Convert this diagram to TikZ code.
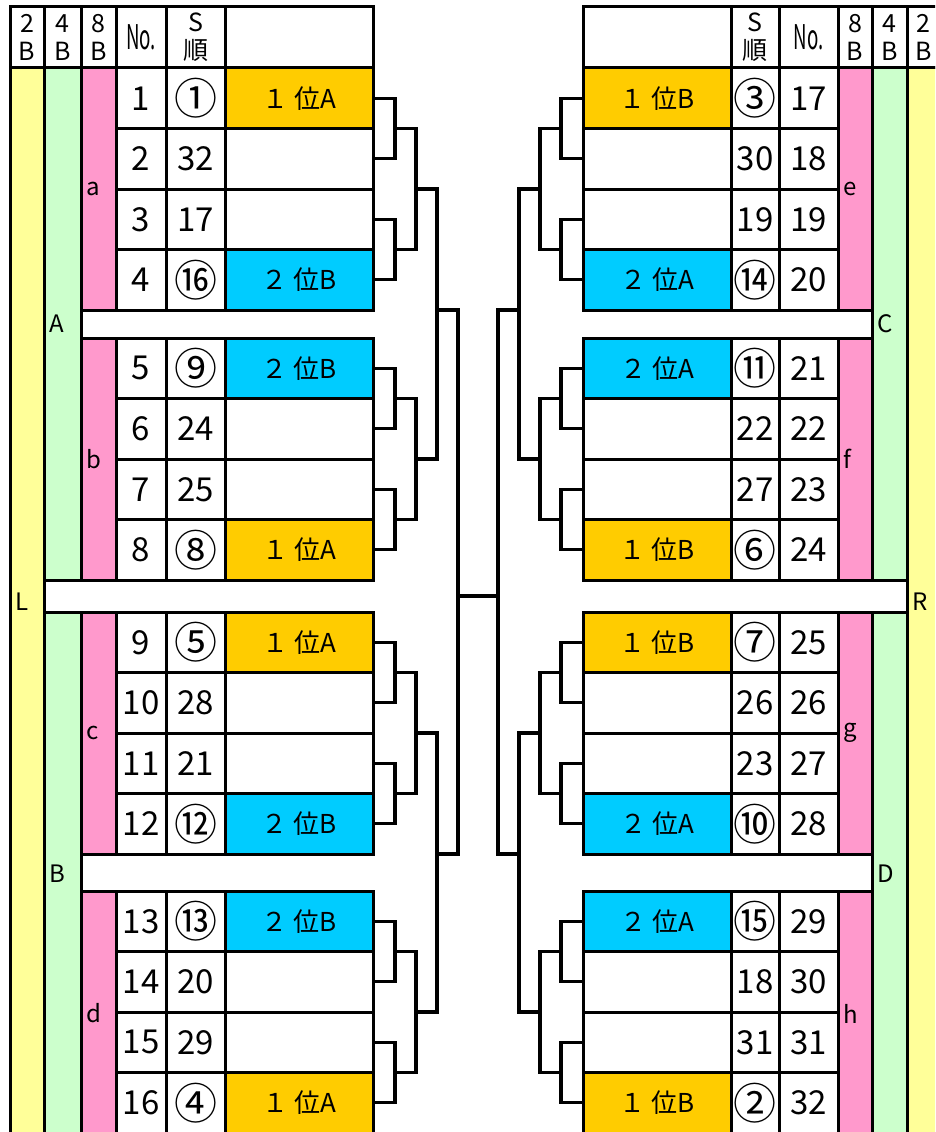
\documentclass[tikz,border=0pt]{standalone}
\usepackage{fontspec}
\setmainfont{Noto Sans CJK JP}
\usetikzlibrary{positioning,calc}

\definecolor{bandyel}{HTML}{FFFF99}
\definecolor{bandgrn}{HTML}{CCFFCC}
\definecolor{bandpnk}{HTML}{FF99CC}
\definecolor{rankor}{HTML}{FFCC00}
\definecolor{rankcy}{HTML}{00CCFF}
\newcommand{\circnum}[1]{{\fontsize{43}{43}\selectfont#1}}
\newcommand{\nolabel}{\scalebox{0.55}[1]{\fontsize{34}{34}\selectfont No.}}

\begin{document}
\begin{tikzpicture}[x=1pt,y=-1pt]
\tikzstyle{cell}=[rectangle,draw=black,line width=3pt,
inner sep=0pt,outer sep=0pt,minimum height=60.5pt]
\tikzstyle{band}=[cell,inner xsep=5pt,align=left,
font=\fontsize{24}{28}\selectfont]
\tikzstyle{head}=[cell,fill=white,minimum height=61pt,align=center,
font=\fontsize{25}{28}\selectfont]
\tikzstyle{num}=[cell,fill=white,font=\fontsize{33}{33}\selectfont]
\tikzstyle{rank}=[cell,font=\fontsize{26}{26}\selectfont]
\tikzstyle{bracket}=[line width=3.4pt,line join=miter]

\useasboundingbox (0,0) rectangle (935,1132);
\clip (0,0) rectangle (935,1132);

% bands 2B / 4B / 8B
\node[band,fill=bandyel,text width=24pt,minimum height=1068pt] (L) at (27,602) {L};
\node[band,fill=bandgrn,text width=27pt,minimum height=512pt] (A) at (62.5,324) {A};
\node[band,fill=bandgrn,text width=27pt,minimum height=524pt] (B) at (62.5,874) {B};
\node[band,fill=bandpnk,text width=25pt,minimum height=242pt] (a) at (98.5,189) {a};
\node[band,fill=bandpnk,text width=25pt,minimum height=242pt] (b) at (98.5,459) {b};
\node[band,fill=bandpnk,text width=25pt,minimum height=242pt] (c) at (98.5,733) {c};
\node[band,fill=bandpnk,text width=25pt,minimum height=245pt] (d) at (98.5,1013.5) {d};
\node[band,fill=bandyel,text width=23pt,minimum height=1068pt] (R) at (923.5,602) {R};
\node[band,fill=bandgrn,text width=25pt,minimum height=512pt] (C) at (889.5,324) {C};
\node[band,fill=bandgrn,text width=25pt,minimum height=524pt] (D) at (889.5,874) {D};
\node[band,fill=bandpnk,text width=24pt,minimum height=242pt] (e) at (855,189) {e};
\node[band,fill=bandpnk,text width=24pt,minimum height=242pt] (f) at (855,459) {f};
\node[band,fill=bandpnk,text width=24pt,minimum height=242pt] (g) at (855,733) {g};
\node[band,fill=bandpnk,text width=24pt,minimum height=245pt] (h) at (855,1013.5) {h};

% header row
\node[head,minimum width=34pt] (hl2) at (27,37.5) {2\\B};
\node[head,minimum width=37pt] (hl4) at (62.5,37.5) {4\\B};
\node[head,minimum width=35pt] (hl8) at (98.5,37.5) {8\\B};
\node[head,minimum width=50pt] (hlno) at (141,37.5) {\nolabel};
\node[head,minimum width=59pt] (hls) at (195.5,37.5) {S\\順};
\node[head,minimum width=148pt] (hlnm) at (299,37.5) {};
\node[head,minimum width=148pt] (hrnm) at (657,37.5) {};
\node[head,minimum width=48pt] (hrs) at (755,37.5) {S\\順};
\node[head,minimum width=59pt] (hrno) at (808.5,37.5) {\nolabel};
\node[head,minimum width=34pt] (hr8) at (855,37.5) {8\\B};
\node[head,minimum width=35pt] (hr4) at (889.5,37.5) {4\\B};
\node[head,minimum width=33pt] (hr2) at (923.5,37.5) {2\\B};

% entries
\foreach \nr/\sj/\rk/\clr in {
1/\circnum{①}/１ 位A/rankor, 2/32//white, 3/17//white, 4/\circnum{⑯}/２ 位B/rankcy,
5/\circnum{⑨}/２ 位B/rankcy, 6/24//white, 7/25//white, 8/\circnum{⑧}/１ 位A/rankor,
9/\circnum{⑤}/１ 位A/rankor, 10/28//white, 11/21//white, 12/\circnum{⑫}/２ 位B/rankcy,
13/\circnum{⑬}/２ 位B/rankcy, 14/20//white, 15/29//white, 16/\circnum{④}/１ 位A/rankor,
17/\circnum{③}/１ 位B/rankor, 18/30//white, 19/19//white, 20/\circnum{⑭}/２ 位A/rankcy,
21/\circnum{⑪}/２ 位A/rankcy, 22/22//white, 23/27//white, 24/\circnum{⑥}/１ 位B/rankor,
25/\circnum{⑦}/１ 位B/rankor, 26/26//white, 27/23//white, 28/\circnum{⑩}/２ 位A/rankcy,
29/\circnum{⑮}/２ 位A/rankcy, 30/18//white, 31/31//white, 32/\circnum{②}/１ 位B/rankor}{
  \pgfmathtruncatemacro{\jj}{mod(\nr-1,16)}
  \pgfmathtruncatemacro{\bk}{\jj/4}
  \pgfmathtruncatemacro{\ii}{\jj-4*\bk}
  \pgfmathsetmacro{\yc}{{68,338,612,891}[\bk]+(\ii+0.5)*60.5}
  \ifnum\nr<17
    \node[num,minimum width=50pt] (no-\nr) at (141,\yc) {\nr};
    \node[num,minimum width=59pt] (sj-\nr) at (195.5,\yc) {\sj};
    \node[rank,fill=\clr,minimum width=148pt] (nm-\nr) at (299,\yc) {\rk};
  \else
    \node[rank,fill=\clr,minimum width=148pt] (nm-\nr) at (657,\yc) {\rk};
    \node[num,minimum width=48pt] (sj-\nr) at (755,\yc) {\sj};
    \node[num,minimum width=59pt] (no-\nr) at (808.5,\yc) {\nr};
  \fi
}

% brackets
\foreach \an/\dir/\sd in {east/1/0,west/-1/1}{
  \foreach \p in {1,...,8}{
    \pgfmathtruncatemacro{\pp}{\p+8*\sd}
    \pgfmathtruncatemacro{\ra}{2*\pp-1}
    \pgfmathtruncatemacro{\rb}{2*\pp}
    \coordinate (ja-\pp) at ($(nm-\ra.\an)!.5!(nm-\rb.\an)+(\dir*22,0)$);
    \draw[bracket] (nm-\ra.\an) -| (ja-\pp) |- (nm-\rb.\an);
  }
  \foreach \p in {1,...,4}{
    \pgfmathtruncatemacro{\pp}{\p+4*\sd}
    \pgfmathtruncatemacro{\ra}{2*\pp-1}
    \pgfmathtruncatemacro{\rb}{2*\pp}
    \coordinate (jb-\pp) at ($(ja-\ra)!.5!(ja-\rb)+(\dir*21,0)$);
    \draw[bracket] (ja-\ra) -| (jb-\pp) |- (ja-\rb);
  }
  \foreach \p in {1,2}{
    \pgfmathtruncatemacro{\pp}{\p+2*\sd}
    \pgfmathtruncatemacro{\ra}{2*\pp-1}
    \pgfmathtruncatemacro{\rb}{2*\pp}
    \pgfmathtruncatemacro{\rw}{8*\pp-4}
    \coordinate (jc-\pp) at ($(jb-\ra |- nm-\rw.south)+(\dir*21,0)$);
    \draw[bracket] (jb-\ra) -| (jc-\pp) |- (jb-\rb);
  }
  \pgfmathtruncatemacro{\pp}{1+\sd}
  \pgfmathtruncatemacro{\ra}{2*\pp-1}
  \pgfmathtruncatemacro{\rb}{2*\pp}
  \pgfmathtruncatemacro{\rw}{16*\pp-8}
  \pgfmathtruncatemacro{\rx}{16*\pp-7}
  \coordinate (mid-\pp) at ($(nm-\rw.south)!.5!(nm-\rx.north)$);
  \coordinate (jd-\pp) at ($(jc-\ra |- mid-\pp)+(\dir*21,0)$);
  \draw[bracket] (jc-\ra) -| (jd-\pp) |- (jc-\rb);
}
\draw[bracket] (jd-1) -- (jd-2);

\end{tikzpicture}
\end{document}
